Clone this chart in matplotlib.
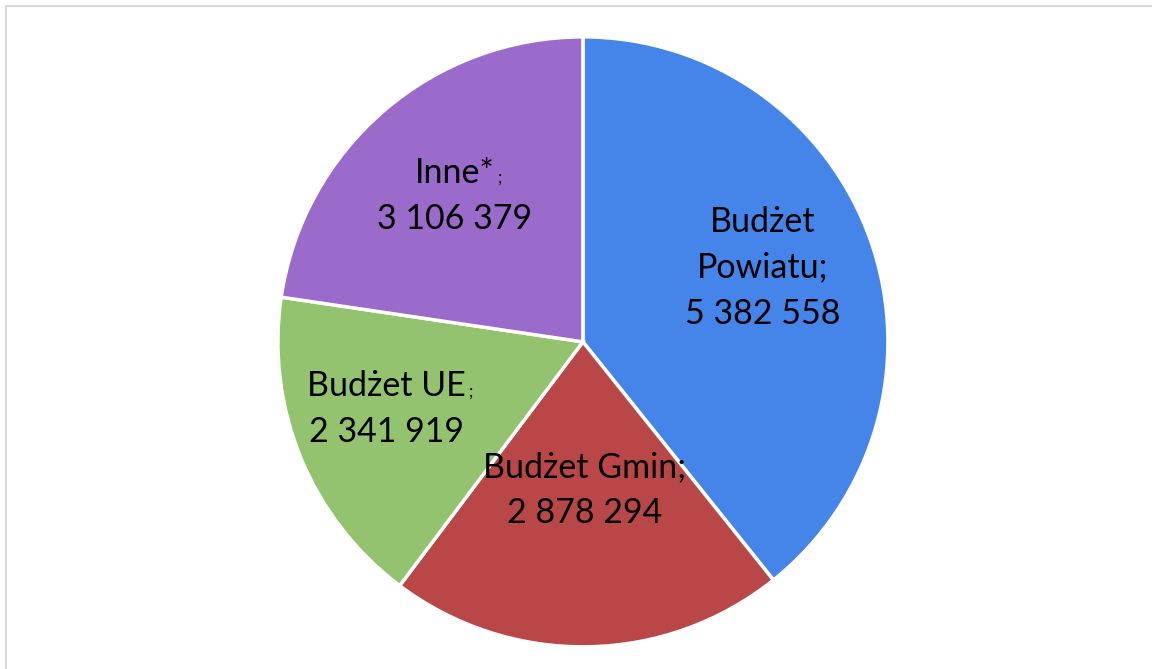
import matplotlib.pyplot as plt
from matplotlib.patches import Rectangle

# === Data ===
names = [['Budżet', 'Powiatu;'], ['Budżet Gmin;'], ['Budżet UE'], ['Inne*']]
values = [5382558, 2878294, 2341919, 3106379]
value_labels = ['5 382 558', '2 878 294', '2 341 919', '3 106 379']
small_semicolon = [False, False, True, True]
colors = ['#4584E9', '#B94747', '#93C36F', '#9B6BCC']
# label centres in units of the pie radius
label_pos = [(0.590, 0.243), (0.007, -0.485), (-0.643, -0.220), (-0.420, 0.479)]

plt.rcParams['font.family'] = ['Lato', 'DejaVu Sans']

fig = plt.figure(figsize=(11.52, 6.69), dpi=100)
ax = fig.add_axes([0.506 - 305 / 1152, 0.489 - 305 / 669, 610 / 1152, 610 / 669])

wedges, _ = ax.pie(values, colors=colors, startangle=90, counterclock=False,
                   wedgeprops=dict(edgecolor='white', linewidth=2.5))
ax.set_xlim(-1, 1)
ax.set_ylim(-1, 1)
ax.set_aspect('equal')

# === Labels (one text per line so the small ';' can hang off a line) ===
fs = 24.5
step = 33  # line step in points
for nm, val, small, (x, y) in zip(names, value_labels, small_semicolon, label_pos):
    lines = nm + [val]
    n = len(lines)
    texts = []
    for i, line in enumerate(lines):
        off = ((n - 1) / 2 - i) * step
        t = ax.annotate(line, xy=(x, y), xytext=(0, off), textcoords='offset points',
                        ha='center', va='center', fontsize=fs)
        texts.append(t)
    if small:
        ax.annotate(';', xy=(1, 0), xycoords=texts[-2], xytext=(2, 2),
                    textcoords='offset points', fontsize=12, ha='left', va='bottom')

# light grey frame, top and left edges visible
fig.patches.append(Rectangle((6 / 1152, -0.1), 1.2, 1.1 - 6 / 669, transform=fig.transFigure,
                             fill=False, edgecolor='#D9D9D9', linewidth=1.5))

plt.savefig('out.png', dpi=100)
